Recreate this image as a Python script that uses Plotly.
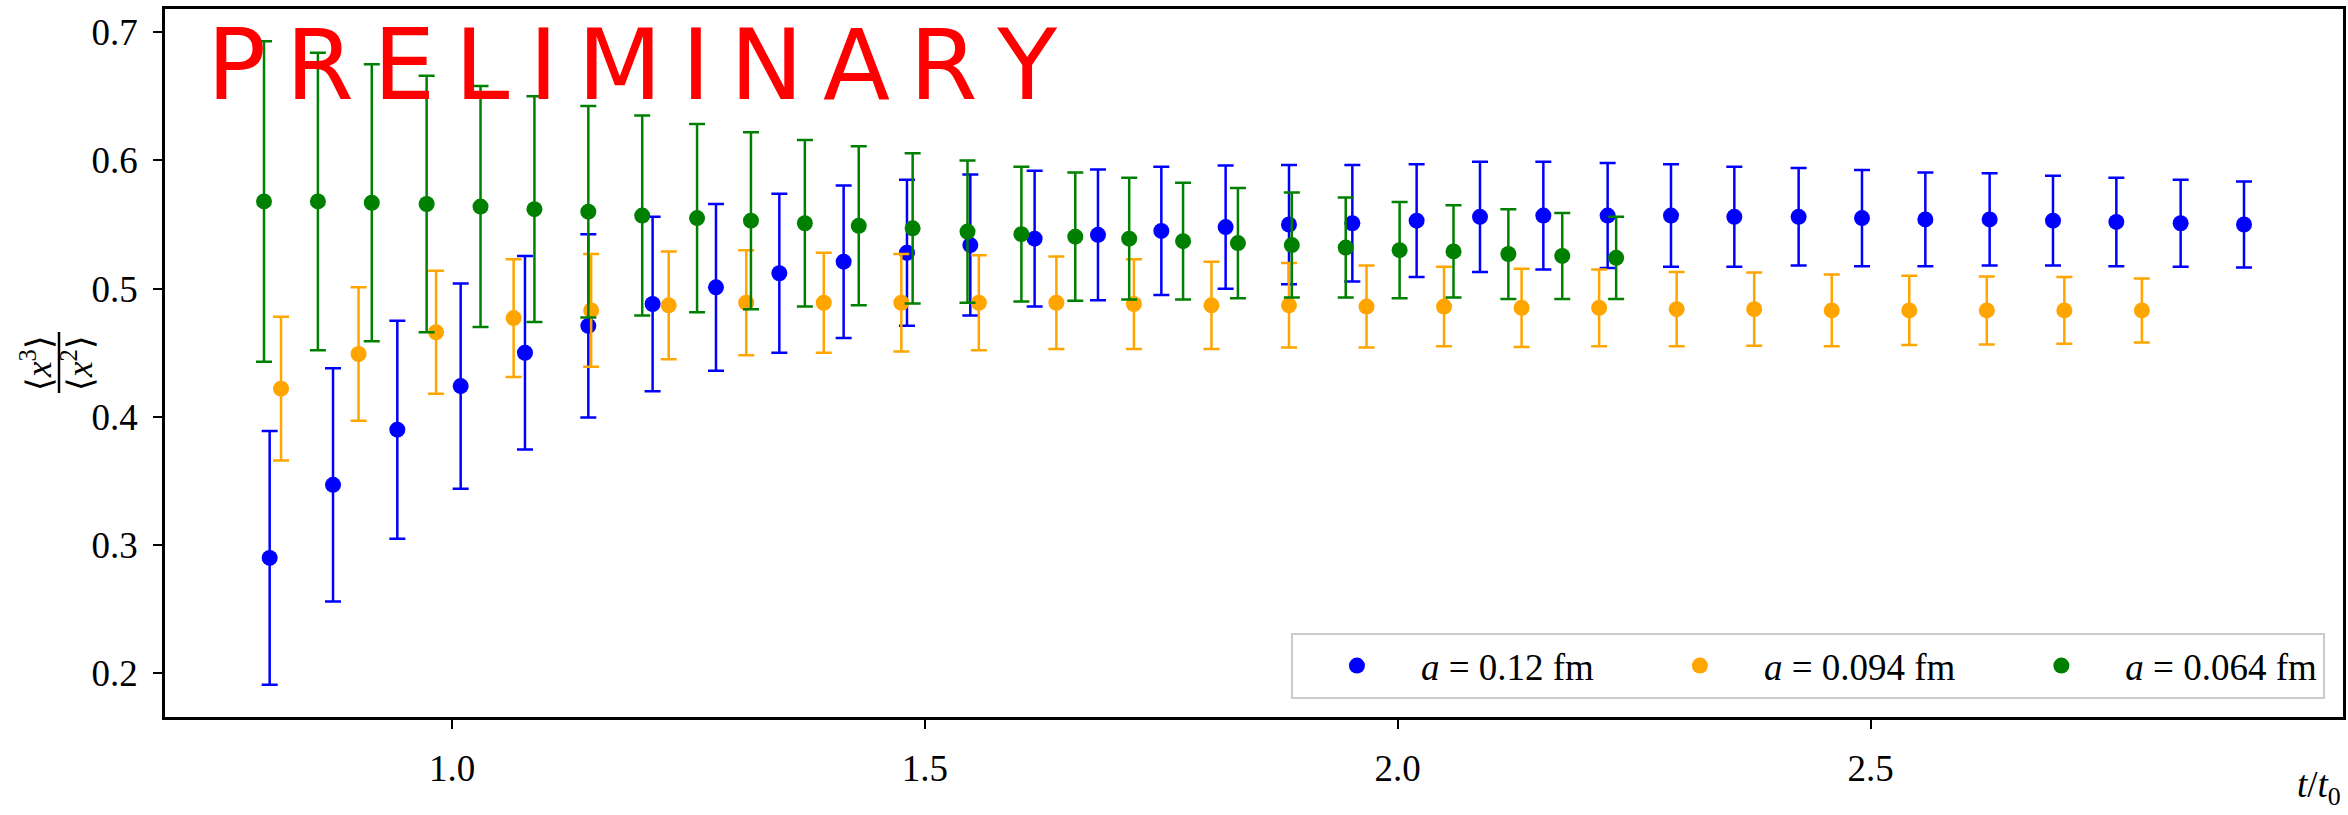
import plotly.graph_objects as go

# flow time t/t0 for each lattice spacing
t_a012 = [0.807, 0.874, 0.942, 1.009, 1.077, 1.144, 1.212, 1.279, 1.346, 1.414,
          1.481, 1.548, 1.616, 1.683, 1.750, 1.818, 1.885, 1.952, 2.020, 2.087,
          2.154, 2.222, 2.289, 2.356, 2.424, 2.491, 2.558, 2.626, 2.693, 2.760,
          2.828, 2.895]
r_a012 = [0.290, 0.347, 0.390, 0.424, 0.450, 0.471, 0.488, 0.501, 0.512, 0.521,
          0.528, 0.534, 0.539, 0.542, 0.545, 0.548, 0.550, 0.551, 0.553, 0.556,
          0.557, 0.557, 0.557, 0.556, 0.556, 0.555, 0.554, 0.554, 0.553, 0.552,
          0.551, 0.550]
e_a012 = [0.099, 0.091, 0.085, 0.080, 0.0755, 0.0715, 0.068, 0.065, 0.062, 0.0595,
          0.057, 0.055, 0.053, 0.051, 0.050, 0.048, 0.0465, 0.0455, 0.044, 0.043,
          0.042, 0.041, 0.040, 0.039, 0.038, 0.0375, 0.0365, 0.036, 0.035, 0.0345,
          0.034, 0.0335]

t_a0094 = [0.819, 0.901, 0.983, 1.065, 1.147, 1.229, 1.311, 1.393, 1.475, 1.557,
           1.639, 1.721, 1.803, 1.885, 1.967, 2.049, 2.131, 2.213, 2.295, 2.377,
           2.459, 2.541, 2.623, 2.705, 2.787]
r_a0094 = [0.422, 0.449, 0.466, 0.477, 0.483, 0.487, 0.489, 0.489, 0.489, 0.489,
           0.489, 0.488, 0.487, 0.487, 0.486, 0.486, 0.485, 0.485, 0.484, 0.484,
           0.483, 0.483, 0.483, 0.483, 0.483]
e_a0094 = [0.056, 0.052, 0.048, 0.046, 0.044, 0.042, 0.041, 0.039, 0.038, 0.037,
           0.036, 0.035, 0.034, 0.033, 0.032, 0.031, 0.0305, 0.030, 0.029, 0.0285,
           0.028, 0.027, 0.0265, 0.026, 0.025]

t_a0064 = [0.801, 0.858, 0.915, 0.973, 1.030, 1.087, 1.144, 1.201, 1.259, 1.316,
           1.373, 1.430, 1.487, 1.545, 1.602, 1.659, 1.716, 1.773, 1.831, 1.888,
           1.945, 2.002, 2.059, 2.117, 2.174, 2.231]
r_a0064 = [0.568, 0.568, 0.567, 0.566, 0.564, 0.562, 0.560, 0.557, 0.555, 0.553,
           0.551, 0.549, 0.547, 0.5445, 0.5425, 0.5405, 0.539, 0.537, 0.5355, 0.534,
           0.532, 0.530, 0.529, 0.527, 0.5255, 0.524]
e_a0064 = [0.125, 0.116, 0.108, 0.100, 0.094, 0.088, 0.0825, 0.078, 0.0735, 0.069,
           0.065, 0.062, 0.0585, 0.0555, 0.0525, 0.050, 0.0475, 0.0455, 0.043, 0.041,
           0.039, 0.0375, 0.036, 0.035, 0.0335, 0.032]

NB = "\u00a0"
series = [
    ("<i>a</i> = 0.12 fm" + NB * 4, t_a012, r_a012, e_a012, "blue"),
    ("<i>a</i> = 0.094 fm" + NB * 4, t_a0094, r_a0094, e_a0094, "orange"),
    ("<i>a</i> = 0.064 fm", t_a0064, r_a0064, e_a0064, "green"),
]

x_ticks = [1.0, 1.5, 2.0, 2.5]
y_ticks = [0.2, 0.3, 0.4, 0.5, 0.6, 0.7]

SERIF = "Liberation Serif"
FS = 37

fig = go.Figure()
for name, t, r, e, col in series:
    fig.add_trace(go.Scatter(
        x=t, y=r, mode="markers", name=name,
        marker=dict(color=col, size=16, line=dict(width=0)),
        error_y=dict(type="data", array=e, visible=True, color=col,
                     thickness=2.5, width=8),
    ))

# axis limits with 5% padding around the data extent
xs = [v for s in series for v in s[1]]
lo = [r - e for s in series for r, e in zip(s[2], s[3])]
hi = [r + e for s in series for r, e in zip(s[2], s[3])]
xpad = 0.05 * (max(xs) - min(xs))
ypad = 0.05 * (max(hi) - min(lo))
x_range = [min(xs) - xpad, max(xs) + xpad]
y_range = [min(lo) - ypad, max(hi) + ypad]

axis_common = dict(
    showline=True, linecolor="black", linewidth=2.5, mirror=True,
    ticks="outside", ticklen=9, tickwidth=2, tickcolor="black",
    showgrid=False, zeroline=False,
    tickfont=dict(family=SERIF, size=FS, color="black"),
)

fig.update_layout(
    width=2348, height=815,
    margin=dict(l=165, r=5, t=9, b=98, autoexpand=False),
    paper_bgcolor="white", plot_bgcolor="white",
    xaxis=dict(range=x_range, tickvals=x_ticks, tickformat=".1f",
               ticklabelstandoff=8, **axis_common),
    yaxis=dict(range=y_range, tickvals=y_ticks, tickformat=".1f",
               ticklabelstandoff=8, **axis_common),
    legend=dict(
        orientation="h", x=0.9917, y=0.0254, xanchor="right", yanchor="bottom",
        bgcolor="rgba(255,255,255,0.8)", bordercolor="#cccccc", borderwidth=2,
        font=dict(family=SERIF, size=FS, color="black"),
        itemwidth=118,
    ),
    showlegend=True,
)

annotations = [
    # watermark
    dict(text="P\u2009R\u2009E\u2009L\u2009I\u2009M\u2009I\u2009N\u2009A\u2009R\u2009Y",
         xref="paper", yref="paper", x=0.0184, y=0.921,
         xanchor="left", yanchor="middle", showarrow=False,
         font=dict(family="DejaVu Sans", size=98, color="red")),
    # x-axis label at the right end
    dict(text="<i>t</i>/<i>t</i><sub>0</sub>", xref="paper", yref="paper",
         x=1.0, y=-0.136, xanchor="right", yanchor="bottom", showarrow=False,
         font=dict(family=SERIF, size=FS, color="black")),
    # y-axis label: stacked fraction, rotated
    dict(text="\u27e8<i>x</i><sup>3</sup>\u27e9", xref="paper", yref="paper",
         x=(36 - 165) / 2178, y=0.5, xanchor="center", yanchor="middle",
         textangle=-90, showarrow=False,
         font=dict(family=SERIF, size=35, color="black")),
    dict(text="\u27e8<i>x</i><sup>2</sup>\u27e9", xref="paper", yref="paper",
         x=(77 - 165) / 2178, y=0.5, xanchor="center", yanchor="middle",
         textangle=-90, showarrow=False,
         font=dict(family=SERIF, size=35, color="black")),
]
fig.update_layout(annotations=annotations)

# fraction bar of the y-axis label
fig.add_shape(type="line", xref="paper", yref="paper",
              x0=(59 - 165) / 2178, x1=(59 - 165) / 2178,
              y0=(717 - 393) / 708, y1=(717 - 332) / 708,
              line=dict(color="black", width=2.5))

fig.write_html("out.html")
